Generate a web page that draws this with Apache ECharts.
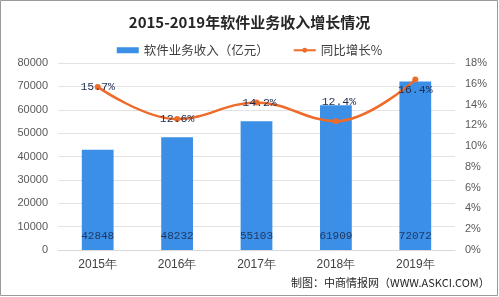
<!DOCTYPE html>
<html><head><meta charset="utf-8">
<script src="https://cdn.jsdelivr.net/npm/echarts@6/dist/echarts.min.js"></script>
<style>html,body{margin:0;padding:0;background:#fff}#c{width:499px;height:297px}</style>
</head><body><div id="c"></div>
<script>
var categories = ['2015年','2016年','2017年','2018年','2019年'];
var revenue = [42848, 48232, 55103, 61909, 72072];
var growth = [15.7, 12.6, 14.2, 12.4, 16.4];
var leftTicks = [0, 80000, 10000];
var rightTicks = [0, 18, 2];

var chart = echarts.init(document.getElementById('c'), null, {renderer:'canvas'});
var offs = [[0,0],[0,0],[3,0],[3,-19],[0,10]];
var option = {
  animation: false,
  backgroundColor: '#fff',
  title: {
    text: '2015-2019年软件业务收入增长情况',
    left: 'center', top: 10,
    textStyle: {fontFamily: 'Noto Sans CJK SC', fontSize: 15, fontWeight: 'bold', color: '#262626'}
  },
  legend: {
    top: 39, left: 'center', itemGap: 24, itemWidth: 22, itemHeight: 6,
    textStyle: {fontFamily: 'Noto Sans CJK SC', fontSize: 12.5, color: '#404040'},
    data: [
      {name: '软件业务收入（亿元）', icon: 'rect'},
      {name: '同比增长%'}
    ]
  },
  grid: {left: 58, right: 44, top: 63, bottom: 47},
  xAxis: {
    type: 'category', data: categories,
    axisTick: {show: false},
    axisLine: {lineStyle: {color: '#d9d9d9'}},
    axisLabel: {fontFamily: 'Liberation Sans', fontSize: 12, color: '#404040', margin: 9}
  },
  yAxis: [
    {type: 'value', min: leftTicks[0], max: leftTicks[1], interval: leftTicks[2],
     axisLine: {show: false}, axisTick: {show: false},
     splitLine: {lineStyle: {color: '#e3e3e3'}},
     axisLabel: {formatter: function(v){ return String(v); },
       fontFamily: 'Liberation Sans', fontSize: 11, color: '#595959', margin: 10}},
    {type: 'value', min: rightTicks[0], max: rightTicks[1], interval: rightTicks[2],
     axisLine: {show: false}, axisTick: {show: false}, splitLine: {show: false},
     axisLabel: {formatter: '{value}%', fontFamily: 'Liberation Sans', fontSize: 11, color: '#595959', margin: 10}}
  ],
  series: [
    {name: '软件业务收入（亿元）', type: 'bar', data: revenue, barWidth: '40%',
     itemStyle: {color: '#3b8fe6'},
     label: {show: true, position: 'insideBottom', distance: 8,
       fontFamily: 'Liberation Mono', fontSize: 11, color: '#1f3864'}},
    {name: '同比增长%', type: 'line', yAxisIndex: 1, smooth: 0.4,
     symbol: 'circle', symbolSize: 6,
     lineStyle: {color: '#ee6b2a', width: 2.5},
     itemStyle: {color: '#ee6b2a'},
     data: growth.map(function(v, i){ return {value: v, label: {offset: offs[i]}}; }),
     label: {show: true, position: 'inside', formatter: '{c}%',
       fontFamily: 'Liberation Mono', fontSize: 11.5, color: '#1f2d50'}}
  ],
  graphic: [
    {type: 'text', left: 291, top: 277,
     style: {text: '制图：中商情报网（WWW.ASKCI.COM）', font: '11px "Noto Sans CJK SC"', fill: '#262626'}},
    {type: 'rect', shape: {x: 0.5, y: 0.5, width: 497, height: 295},
     style: {fill: 'none', stroke: '#9a9a9a', lineWidth: 1}, silent: true}
  ]
};
chart.setOption(option);
</script></body></html>
